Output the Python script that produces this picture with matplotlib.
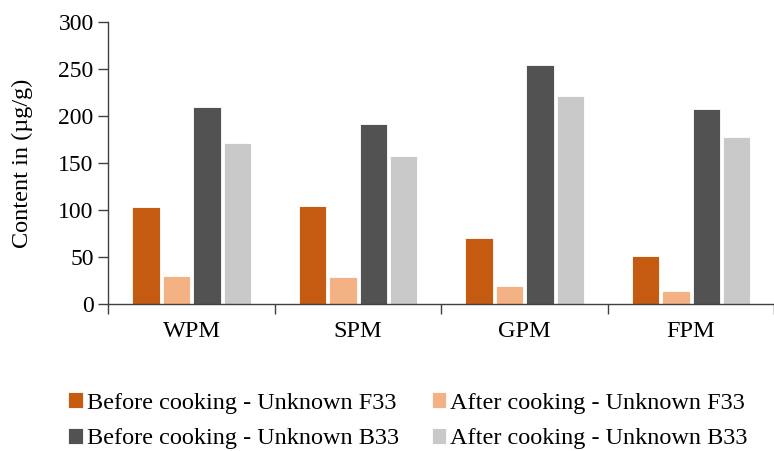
import matplotlib as mpl
mpl.use('Agg')
import matplotlib.pyplot as plt
import numpy as np

plt.rcParams['font.family'] = ['Liberation Serif', 'DejaVu Serif']

groups = ['WPM', 'SPM', 'GPM', 'FPM']
series = ['Before cooking - Unknown F33', 'After cooking - Unknown F33',
          'Before cooking - Unknown B33', 'After cooking - Unknown B33']
before_f33 = [103, 104.7, 70.4, 51.3]
after_f33 = [30.4, 28.7, 19.7, 14.1]
before_b33 = [209.8, 191.7, 254, 207.3]
after_b33 = [170.9, 157.7, 221.4, 177.6]
colors = ['#C55A11', '#F4B183', '#525252', '#C9C9C9']

if __name__ == '__main__':
    fig = plt.figure(figsize=(7.74, 4.51), dpi=100)
    ax = fig.add_axes([0.1399, 0.3253, 0.8605, 0.627])
    x = np.arange(len(groups))
    pitch = 0.183
    bars = []
    for i, (vals, lab) in enumerate(zip([before_f33, after_f33, before_b33, after_b33], series)):
        b = ax.bar(x + (i - 1.5) * pitch, vals, width=0.165, color=colors[i],
                   edgecolor='white', linewidth=0.6, label=lab)
        bars.append(b)
    ax.set_xlim(-0.5, len(groups) - 0.5)
    ax.set_ylim(0, 300)
    ax.set_yticks(np.arange(0, 301, 50))
    ax.set_xticks(x)
    ax.set_xticklabels(groups, fontsize=17.5)
    ax.set_xticks(np.arange(-0.5, len(groups), 1), minor=True)
    ax.tick_params(axis='x', which='major', length=0, pad=12)
    ax.tick_params(axis='x', which='minor', length=7, width=1, color='#404040')
    ax.tick_params(axis='y', length=7, width=1, color='#404040', labelsize=17)
    for s in ['top', 'right']:
        ax.spines[s].set_visible(False)
    for s in ['left', 'bottom']:
        ax.spines[s].set_color('#404040')
        ax.spines[s].set_linewidth(1)
    ax.set_ylabel('Content in (µg/g)', fontsize=17.5, labelpad=18)
    # legend filled row by row like the original
    order = [0, 2, 1, 3]
    fig.legend([bars[k] for k in order], [series[k] for k in order],
               loc='lower center', bbox_to_anchor=(0.527, -0.045), ncol=2, frameon=False,
               fontsize=17.5, handlelength=0.6, handleheight=0.6, handletextpad=0.15,
               columnspacing=1.35, labelspacing=0.6)
    fig.savefig('out.png', dpi=100)
